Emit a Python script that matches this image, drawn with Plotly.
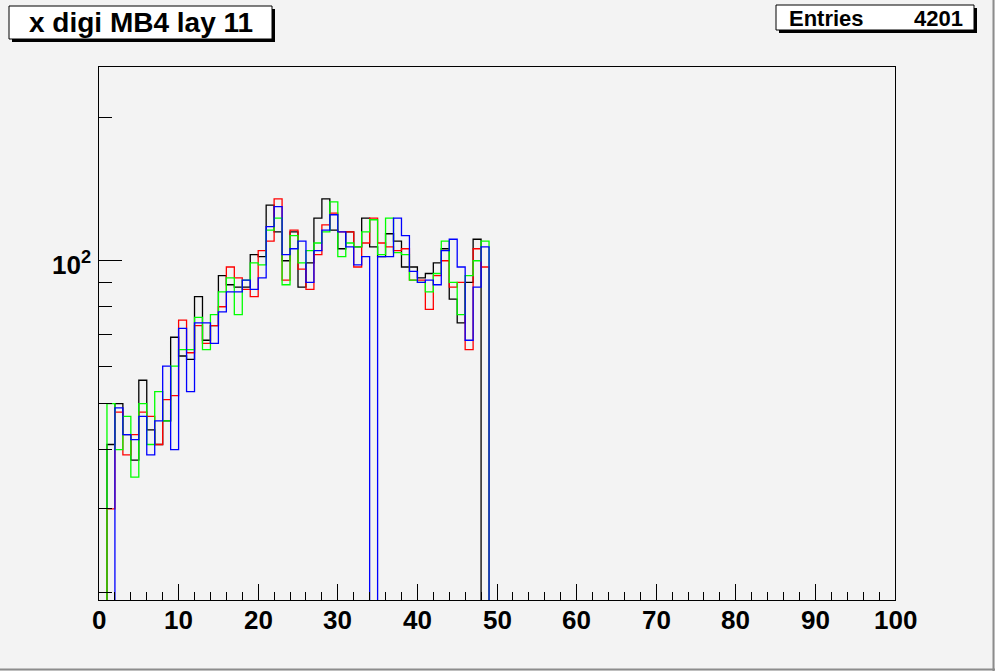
import plotly.graph_objects as go

# ---- data (bin contents, bins of width 1 starting at x=0; bins 49..99 empty) ----
black = [0, 41, 50, 43, 38, 56, 44, 41, 46, 69, 63, 62, 84, 68, 73, 93, 89, 88, 88, 103,
         102, 131, 115, 100, 115, 88, 99, 123, 135, 116, 106, 115, 107, 123, 107, 102, 114,
         110, 97, 97, 92, 94, 99, 106, 83, 74, 90, 111, 0]
red = [0, 30, 48, 39, 43, 48, 47, 41, 51, 52, 75, 64, 73, 67, 73, 80, 97, 92, 87, 84,
       105, 110, 135, 91, 116, 96, 87, 103, 119, 126, 115, 115, 97, 109, 123, 109, 107,
       105, 106, 91, 91, 79, 93, 100, 88, 90, 65, 106, 97]
green = [0, 50, 40, 47, 35, 50, 41, 53, 46, 60, 65, 65, 76, 65, 77, 86, 92, 77, 91, 99,
         98, 116, 123, 89, 113, 99, 105, 109, 115, 133, 102, 109, 107, 115, 122, 103, 123,
         104, 103, 91, 90, 86, 94, 110, 90, 77, 93, 100, 110]
blue = [0, 0, 49, 43, 42, 47, 39, 46, 60, 40, 72, 53, 74, 74, 67, 78, 86, 86, 91, 87,
        92, 118, 130, 103, 106, 110, 90, 105, 116, 125, 115, 107, 98, 102, 0, 102, 102,
        123, 113, 95, 90, 91, 89, 105, 111, 97, 68, 88, 107]
n_bins = 100
x_min, x_max = 0, 100
title_text = "x digi MB4 lay 11"
entries = 4201
x_tickvals = list(range(0, 101, 10))
x_ticktext = [str(v) for v in x_tickvals]
y_major = [100]
y_major_text = ["10<sup>2</sup>"]
y_minor = [20, 30, 40, 50, 60, 70, 80, 90, 200]

# ---- figure geometry (pixels) ----
W, H = 995, 671
L, R, T, B = 99, 895, 67, 600
BG = "#f3f3f3"
FONT = "Liberation Sans"


def px(x):
    return (x - L) / (R - L)


def py(y):
    return (B - y) / (B - T)


def steps(vals):
    full = list(vals) + [0] * (n_bins - len(vals))
    ys = [v if v > 0 else 1e-2 for v in full]
    xs = list(range(x_min, x_max + 1))
    return xs, ys + [ys[-1]]


fig = go.Figure()
for vals, col in [(black, "#000000"), (red, "#ff0000"), (green, "#00ff00"), (blue, "#0000ff")]:
    xs, ys = steps(vals)
    fig.add_trace(go.Scatter(x=xs, y=ys, mode="lines", line=dict(color=col, width=1.3, shape="hv"),
                             hoverinfo="skip", showlegend=False))

fig.update_layout(
    width=W, height=H,
    margin=dict(l=L, r=W - R, t=T, b=H - B, pad=0),
    paper_bgcolor=BG, plot_bgcolor=BG,
    showlegend=False,
    font=dict(family=FONT, color="black"),
)
fig.update_xaxes(
    range=[x_min, x_max], tickmode="array", tickvals=x_tickvals, showticklabels=False,
    ticks="inside", ticklen=16, tickwidth=1, tickcolor="black",
    minor=dict(tickmode="linear", tick0=0, dtick=2, ticks="inside", ticklen=8, tickcolor="black", tickwidth=1),
    showline=True, linecolor="black", linewidth=1, mirror=True,
    showgrid=False, zeroline=False,
)
fig.update_yaxes(
    type="log", range=[1.2852, 2.4082],
    tickmode="array", tickvals=y_major, showticklabels=False,
    ticks="inside", ticklen=23, tickwidth=1, tickcolor="black",
    minor=dict(tickmode="array", tickvals=y_minor, ticks="inside", ticklen=13, tickcolor="black", tickwidth=1),
    showline=True, linecolor="black", linewidth=1, mirror=True,
    showgrid=False, zeroline=False,
)

# tick labels as annotations (exact placement like ROOT)
lab_font = dict(family=FONT, size=26, color="black", weight="bold")
for v, t in zip(x_tickvals, x_ticktext):
    fig.add_annotation(xref="x", yref="paper", x=v, y=py(620), text=t, showarrow=False,
                       xanchor="center", yanchor="middle", font=lab_font)
for v, t in zip(y_major, y_major_text):
    fig.add_annotation(xref="paper", yref="y", x=px(93), y=2.0, text=t, showarrow=False,
                       xanchor="right", yanchor="middle", yshift=-3, font=lab_font)

shapes = []
# title box with shadow
shapes.append(dict(type="rect", xref="paper", yref="paper", x0=px(12), x1=px(275), y0=py(42), y1=py(9),
                   fillcolor="black", line=dict(width=0), layer="above"))
shapes.append(dict(type="rect", xref="paper", yref="paper", x0=px(9), x1=px(272), y0=py(39), y1=py(6),
                   fillcolor="white", line=dict(color="black", width=1), layer="above"))
# stats box with shadow
shapes.append(dict(type="rect", xref="paper", yref="paper", x0=px(779), x1=px(977), y0=py(33), y1=py(8),
                   fillcolor="black", line=dict(width=0), layer="above"))
shapes.append(dict(type="rect", xref="paper", yref="paper", x0=px(776), x1=px(974), y0=py(30), y1=py(5),
                   fillcolor="white", line=dict(color="black", width=1), layer="above"))
# canvas bevel
shapes.append(dict(type="line", xref="paper", yref="paper", x0=px(993.5), x1=px(993.5), y0=py(671), y1=py(0),
                   line=dict(color="#8c8c8c", width=2), layer="above"))
shapes.append(dict(type="line", xref="paper", yref="paper", x0=px(0), x1=px(995), y0=py(669.5), y1=py(669.5),
                   line=dict(color="#8c8c8c", width=2), layer="above"))
fig.update_layout(shapes=shapes)

fig.add_annotation(xref="paper", yref="paper", x=px(141), y=py(23), text=title_text, showarrow=False,
                   xanchor="center", yanchor="middle",
                   font=dict(family=FONT, size=28, color="black", weight="bold"))
fig.add_annotation(xref="paper", yref="paper", x=px(787), y=py(18), text="Entries", showarrow=False,
                   xanchor="left", yanchor="middle",
                   font=dict(family=FONT, size=22, color="black", weight="bold"))
fig.add_annotation(xref="paper", yref="paper", x=px(965), y=py(18), text=str(entries), showarrow=False,
                   xanchor="right", yanchor="middle",
                   font=dict(family=FONT, size=22, color="black", weight="bold"))

fig.write_html("out.html", config={"displayModeBar": False},
               post_script="document.body.style.margin='0';document.body.style.overflow='hidden';")
